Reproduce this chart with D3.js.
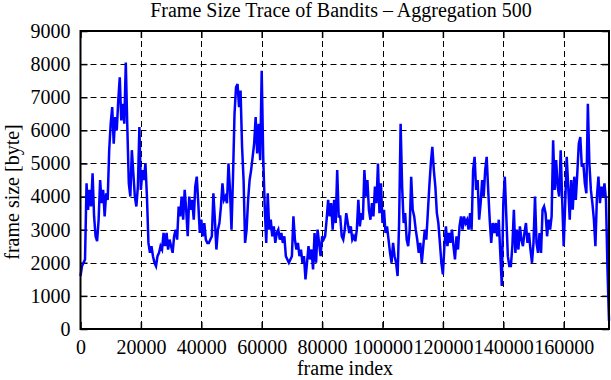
<!DOCTYPE html>
<html>
<head>
<meta charset="utf-8">
<script src="https://cdn.jsdelivr.net/npm/d3@7"></script>
<style>
  body { margin: 0; background: #fff; }
  text { font-family: "Liberation Serif", "DejaVu Serif", serif; fill: #000; }
</style>
</head>
<body>
<svg width="611" height="380"></svg>
<script>
// frame sizes, one value per 500 frames (aggregation 500)
var step = 500;
var frameSize = [
  1600,1900,2000,2100,4400,3600,4200,3700,4700,3400,
  2800,2650,3300,4500,3800,4200,3400,4100,3900,5400,
  6200,6700,5600,6400,6000,6900,7600,6300,6800,6200,
  8050,6100,4400,4000,5400,4700,4000,3700,4300,6100,
  4200,4800,4500,5000,4000,2600,2300,2500,2200,2000,
  1900,2200,2300,2500,2400,2900,2500,2900,2400,2700,
  2500,2300,2800,3000,2700,3700,3400,4000,3300,4200,
  3600,2800,4000,3600,3900,3300,4300,4600,3800,2900,
  3300,2800,3200,2700,2600,2600,2700,2800,4100,3300,
  2400,3000,3200,3700,4400,3900,4000,3800,5000,4200,
  3000,4600,6500,7300,7400,6700,7200,5500,4500,2600,
  3000,3900,4500,4800,5200,5600,6400,5300,6200,5100,
  7800,5200,3700,2600,4100,3000,3300,2800,3100,2600,
  2900,3000,2700,2900,2600,2800,2200,2100,2000,2100,
  2200,3400,2700,2400,2600,2200,2400,2000,2200,1500,
  2000,2500,2100,2400,1800,2900,2000,3000,2600,2200,
  2800,2700,2800,3300,3900,3400,3800,3000,3900,3200,
  4800,3400,3400,2800,2700,3000,3500,3200,2900,3100,
  2700,2800,2650,3000,3900,3100,3500,3300,4800,4000,
  4500,3600,3300,3800,3400,4300,3800,5000,3500,4400,
  3200,3600,2900,3100,2700,2300,2000,2600,2200,2000,
  1600,3200,6200,4300,3200,3500,2700,2500,3000,4600,
  3600,3400,3000,2700,2300,2600,2000,2500,3000,2700,
  3500,4300,5000,5500,4800,4300,3500,3200,2600,2000,
  1650,2500,3100,2500,2900,2600,3000,2500,2100,2800,
  2400,3100,3400,3000,3400,3200,3300,3000,3500,3000,
  4800,5200,4200,4500,3300,3800,4500,4000,4800,5200,
  4200,3300,2600,3200,2900,3200,2800,3300,2300,1300,
  3800,4600,3400,2200,1900,1900,2500,3600,2300,3000,
  2400,3100,2700,2500,2900,3200,2600,2900,2400,2000,
  2600,4000,2600,2300,2900,2300,3600,3700,3500,2800,
  3300,3000,3400,5700,4200,5100,4300,4000,5400,3900,
  2500,3800,5200,4300,3300,4500,3600,4600,3900,4700,
  5600,5800,4900,5000,4400,4100,6800,5000,4200,3800,
  3300,2500,4000,4600,3800,4300,4000,4400,3900,1800,
  250
];
var xTicks = [0, 20000, 40000, 60000, 80000, 100000, 120000, 140000, 160000];
var yTicks = [0, 1000, 2000, 3000, 4000, 5000, 6000, 7000, 8000, 9000];

var svg = d3.select("svg");
var plotLeft = 80.5, plotRight = 609, plotTop = 31, plotBottom = 329;

var x = d3.scaleLinear().domain([0, 175000]).range([plotLeft, plotRight]);
var y = d3.scaleLinear().domain([0, 9000]).range([plotBottom, plotTop]);

// dashed grid
svg.append("g").selectAll("line").data(xTicks.slice(1)).enter().append("line")
  .attr("x1", d => Math.round(x(d)) + 0.5).attr("x2", d => Math.round(x(d)) + 0.5)
  .attr("y1", plotTop).attr("y2", plotBottom)
  .attr("stroke", "#000").attr("stroke-width", 1).attr("stroke-dasharray", "6,4");
svg.append("g").selectAll("line").data(yTicks.slice(1, -1)).enter().append("line")
  .attr("x1", plotLeft).attr("x2", plotRight)
  .attr("y1", d => Math.round(y(d)) + 0.5).attr("y2", d => Math.round(y(d)) + 0.5)
  .attr("stroke", "#000").attr("stroke-width", 1).attr("stroke-dasharray", "6,4");

// axes, ticks pointing inwards, mirrored on top and right
var fmt = d3.format("d");
svg.append("g").attr("transform", "translate(0," + plotBottom + ")")
  .call(d3.axisBottom(x).tickValues(xTicks).tickFormat(fmt).tickSize(-7).tickPadding(11));
svg.append("g").attr("transform", "translate(" + plotLeft + ",0)")
  .call(d3.axisLeft(y).tickValues(yTicks).tickFormat(fmt).tickSize(-7).tickPadding(10));
svg.append("g").attr("transform", "translate(0," + plotTop + ")")
  .call(d3.axisTop(x).tickValues(xTicks).tickFormat("").tickSize(-7));
svg.append("g").attr("transform", "translate(" + plotRight + ",0)")
  .call(d3.axisRight(y).tickValues(yTicks).tickFormat("").tickSize(-7));
svg.selectAll(".domain").remove();
svg.selectAll(".tick line").attr("stroke", "#000").attr("stroke-width", 1.5);
svg.selectAll(".tick text").style("font-size", "20px").style("font-family", "Liberation Serif");

// data line
var line = d3.line().x((d, i) => x(i * step)).y(d => y(d));
svg.append("path").datum(frameSize)
  .attr("d", line)
  .attr("fill", "none")
  .attr("stroke", "#0000ff")
  .attr("stroke-width", 2.5)
  .attr("stroke-linejoin", "miter");

// border
svg.append("rect")
  .attr("x", plotLeft).attr("y", plotTop)
  .attr("width", plotRight - plotLeft).attr("height", plotBottom - plotTop)
  .attr("fill", "none").attr("stroke", "#000").attr("stroke-width", 2);

// titles
svg.append("text").attr("x", 341).attr("y", 17).attr("text-anchor", "middle")
  .style("font-size", "20px").text("Frame Size Trace of Bandits \u2013 Aggregation 500");
svg.append("text").attr("x", 345).attr("y", 375).attr("text-anchor", "middle")
  .style("font-size", "20px").text("frame index");
svg.append("text").attr("transform", "translate(19,192) rotate(-90)").attr("text-anchor", "middle")
  .style("font-size", "20px").text("frame size [byte]");
</script>
</body>
</html>
